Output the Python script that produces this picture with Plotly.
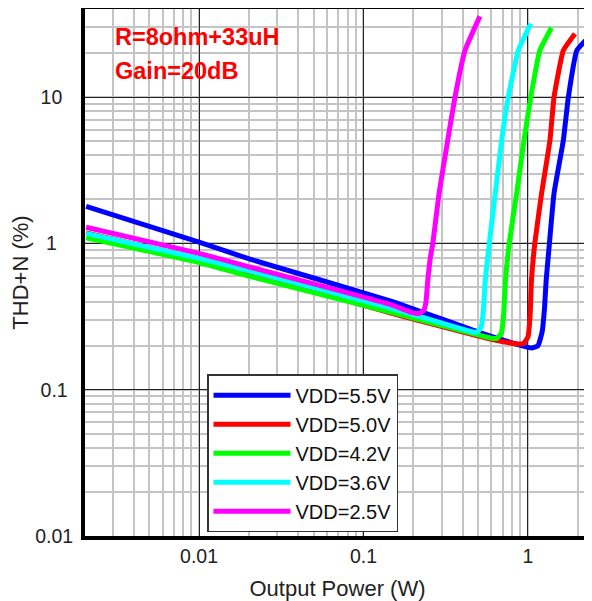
import plotly.graph_objects as go

# ---------------- data ----------------
series_names = ["VDD=5.5V", "VDD=5.0V", "VDD=4.2V", "VDD=3.6V", "VDD=2.5V"]
series_colors = ["#0000FF", "#FF0000", "#00FF00", "#00FFFF", "#FF00FF"]

p_55 = [0.00206, 0.01, 0.0204, 0.145, 0.51, 0.95, 1.05, 1.15, 1.22, 1.26, 1.29, 1.35, 1.44, 1.64, 1.76, 1.98, 2.33]
t_55 = [1.79, 1.02, 0.78, 0.405, 0.246, 0.198, 0.193, 0.2, 0.25, 0.36, 0.56, 1.0, 2.2, 5.06, 10.0, 20.8, 25.5]

p_50 = [0.00206, 0.01, 0.0204, 0.145, 0.6, 0.85, 0.94, 1.0, 1.03, 1.05, 1.10, 1.21, 1.36, 1.44, 1.64, 1.93]
t_50 = [1.18, 0.78, 0.63, 0.335, 0.221, 0.206, 0.207, 0.23, 0.32, 0.56, 1.0, 2.2, 5.06, 10.0, 20.8, 27.1]

p_42 = [0.00206, 0.01, 0.0204, 0.145, 0.6, 0.65, 0.69, 0.71, 0.73, 0.769, 0.853, 0.946, 1.04, 1.18, 1.39]
t_42 = [1.09, 0.74, 0.595, 0.339, 0.225, 0.225, 0.245, 0.32, 0.56, 1.0, 2.2, 5.06, 10.0, 20.8, 29.8]

p_36 = [0.00206, 0.01, 0.0204, 0.145, 0.45, 0.49, 0.52, 0.535, 0.55, 0.582, 0.692, 0.759, 0.873, 1.04]
t_36 = [1.17, 0.79, 0.647, 0.363, 0.25, 0.247, 0.27, 0.34, 0.56, 1.0, 5.06, 10.0, 20.8, 31.8]

p_25 = [0.00206, 0.01, 0.0204, 0.145, 0.2, 0.22, 0.233, 0.24, 0.246, 0.255, 0.264, 0.288, 0.325, 0.36, 0.414, 0.51]
t_25 = [1.29, 0.855, 0.689, 0.383, 0.335, 0.333, 0.35, 0.4, 0.56, 0.8, 1.0, 2.2, 5.06, 10.0, 20.8, 35.6]

series_x = [p_55, p_50, p_42, p_36, p_25]
series_y = [t_55, t_50, t_42, t_36, t_25]

x_tickvals = [0.01, 0.1, 1]
x_ticktext = ["0.01", "0.1", "1"]
y_tickvals = [0.01, 0.1, 1, 10]
y_ticktext = ["0.01", "0.1", "1", "10"]

annotation_lines = ["R=8ohm+33uH", "Gain=20dB"]

FONT = "Arial, Liberation Sans, sans-serif"
NB = "\u00a0"

fig = go.Figure()
for name, color, xs, ys in zip(series_names, series_colors, series_x, series_y):
    fig.add_trace(go.Scatter(
        x=xs, y=ys, mode="lines", name=name,
        line=dict(color=color, width=5, shape="spline", smoothing=0.4),
    ))

axis_common = dict(
    type="log", automargin=False,
    showline=True, linecolor="black", linewidth=4, mirror=True,
    showgrid=True, gridcolor="#222222", gridwidth=1,
    ticks="", zeroline=False,
    tickfont=dict(family=FONT, size=19.5, color="#222222"),
    minor=dict(dtick="D1", showgrid=True, gridcolor="#c4c4c4", gridwidth=1.5, ticks=""),
)

# trailing padding so the y labels sit roughly centred, as in the original
pad = {"0.01": 0, "0.1": 1, "1": 3, "10": 2}
y_labels = [t + NB * pad[t] for t in y_ticktext]

fig.update_xaxes(
    **axis_common,
    range=[-2.693, 0.377],
    tickvals=x_tickvals, ticktext=x_ticktext,
    ticklabelstandoff=0,
    title=dict(text="Output Power (W)", font=dict(family=FONT, size=22, color="#222222"), standoff=16),
)
fig.update_yaxes(
    **axis_common,
    range=[-2, 1.602],
    tickvals=y_tickvals, ticktext=y_labels,
    ticklabelstandoff=4,
    title=dict(text="THD+N (%)", font=dict(family=FONT, size=22, color="#222222"), standoff=14),
)

for i, txt in enumerate(annotation_lines):
    fig.add_annotation(
        x=0.0554, y=1 - (28 + 33.5 * i) / 527, xref="paper", yref="paper",
        xanchor="left", yanchor="middle", showarrow=False,
        text="<b>" + txt + "</b>",
        font=dict(family=FONT, size=23.5, color="#FF0000"),
    )

fig.update_layout(
    width=584, height=593,
    margin=dict(l=77, r=2, t=1, b=65, autoexpand=False),
    paper_bgcolor="white", plot_bgcolor="white",
    showlegend=True,
    legend=dict(
        x=0.2416, y=0.307, xanchor="left", yanchor="top",
        bgcolor="white", bordercolor="#333333", borderwidth=1.5,
        font=dict(family=FONT, size=20, color="#111111"),
        itemwidth=77,
        tracegroupgap=0,
    ),
)

fig.write_html("out.html")
